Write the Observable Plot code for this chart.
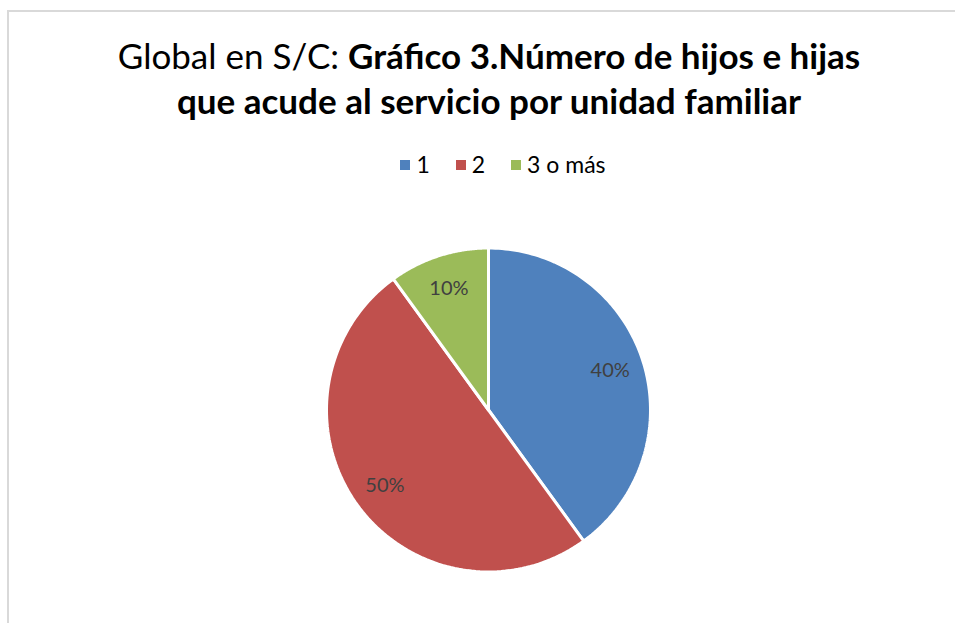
<!DOCTYPE html>
<html>
<head>
<meta charset="utf-8">
<script src="https://cdn.jsdelivr.net/npm/d3@7"></script>
<script src="https://cdn.jsdelivr.net/npm/@observablehq/plot@0.6"></script>
<style>
  html, body { margin: 0; padding: 0; background: #fff; }
  #wrap { position: relative; width: 955px; height: 623px; overflow: hidden; font-family: Lato, "Open Sans", sans-serif; }
  #frame { position: absolute; left: 7px; top: 10px; width: 960px; height: 620px; border-left: 2px solid #d9d9d9; border-top: 2px solid #d9d9d9; }
  #title { position: absolute; left: 0; width: 978px; top: 33px; text-align: center; font-size: 35px; line-height: 45px; color: #000; }
  #title b { font-weight: 700; }
  #legend { position: absolute; left: 14px; width: 978px; top: 150px; text-align: center; font-size: 23px; color: #000; white-space: nowrap; }
  .li { display: inline-block; margin: 0 13px; }
  .sw { display: inline-block; width: 10px; height: 10px; margin-right: 6px; vertical-align: 3px; }
  #chart { position: absolute; left: 0; top: 0; }
</style>
</head>
<body>
<div id="wrap">
  <div id="frame"></div>
  <div id="title">Global en S/C: <b>Gráfico 3.Número de hijos e hijas<br>que acude al servicio por unidad familiar</b></div>
  <div id="legend"></div>
  <div id="chart"></div>
</div>
<script>
const categories = ["1", "2", "3 o más"];
const values = [40, 50, 10];
const labels = ["40%", "50%", "10%"];
const colors = ["#4F81BD", "#C0504D", "#9BBB59"];

const W = 955, H = 623, CX = 488, CY = 409.5, R = 162;

const pie = d3.pie().sort(null).value(d => d.value);
const arcs = pie(categories.map((c, i) => ({cat: c, value: values[i], label: labels[i]})));

const pts = [];
arcs.forEach(a => {
  pts.push({cat: a.data.cat, x: 0, y: 0});
  const n = 120;
  for (let k = 0; k <= n; k++) {
    const t = a.startAngle + (a.endAngle - a.startAngle) * k / n;
    pts.push({cat: a.data.cat, x: Math.sin(t), y: Math.cos(t)});
  }
  pts.push({cat: a.data.cat, x: 0, y: 0});
});
const lab = arcs.map(a => {
  const m = (a.startAngle + a.endAngle) / 2;
  return {cat: a.data.cat, label: a.data.label, x: 0.79 * Math.sin(m), y: 0.79 * Math.cos(m)};
});

const plot = Plot.plot({
  width: W, height: H,
  margin: 0,
  x: {domain: [-CX / R, (W - CX) / R], range: [0, W], axis: null},
  y: {domain: [-(H - CY) / R, CY / R], range: [H, 0], axis: null},
  color: {domain: categories, range: colors},
  style: {background: "transparent", overflow: "visible"},
  marks: [
    ...categories.map((c, i) => Plot.line(pts.filter(p => p.cat === c), {
      x: "x", y: "y", fill: colors[i], stroke: "white", strokeWidth: 3, strokeLinejoin: "miter"
    })),
    Plot.text(lab, {x: "x", y: "y", text: "label", fill: "#404040", fontSize: 20, fontFamily: "Lato, 'Open Sans', sans-serif"})
  ]
});
document.getElementById("chart").appendChild(plot);

const leg = document.getElementById("legend");
categories.forEach((c, i) => {
  const s = document.createElement("span");
  s.className = "li";
  s.innerHTML = `<span class="sw" style="background:${colors[i]}"></span>${c}`;
  leg.appendChild(s);
});
</script>
</body>
</html>
